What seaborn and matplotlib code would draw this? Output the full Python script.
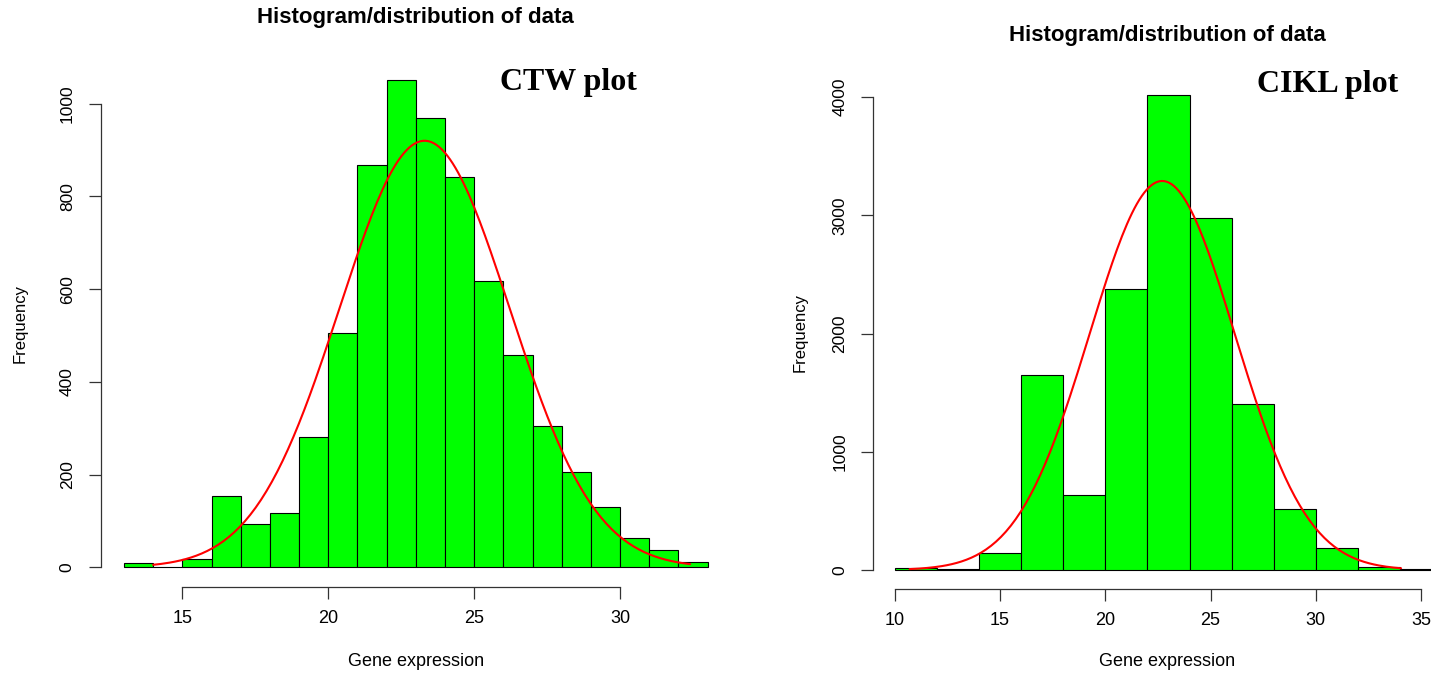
import numpy as np
import pandas as pd
import matplotlib
matplotlib.use("Agg")
import matplotlib.pyplot as plt
import seaborn as sns

# ---------------- data ----------------
ctw_edges = list(range(13, 34, 1))            # 13..33, width 1
ctw_counts = [9, 0, 19, 155, 93, 117, 281, 505, 868, 1052, 968, 842,
              618, 458, 305, 205, 130, 63, 37, 11]

cikl_edges = list(range(10, 37, 2))           # 10..36, width 2
cikl_counts = [20, 12, 144, 1648, 634, 2376, 4017, 2977, 1404, 516, 189, 23, 10]

# fitted normal curves: mean, sd, peak height, x-range
ctw_fit = dict(mean=23.3, sd=2.92, peak=920, x0=14.0, x1=32.4)
cikl_fit = dict(mean=22.7, sd=3.45, peak=3290, x0=10.7, x1=34.05)

ctw_xticks = [15, 20, 25, 30]
ctw_yticks = [0, 200, 400, 600, 800, 1000]
cikl_xticks = [10, 15, 20, 25, 30, 35]
cikl_yticks = [0, 1000, 2000, 3000, 4000]

title_text = "Histogram/distribution of data"
xlab = "Gene expression"
ylab = "Frequency"

# ---------------- style ----------------
sns.set_theme(style="white")
plt.rcParams["font.family"] = ["Liberation Sans", "DejaVu Sans"]
plt.rcParams["text.color"] = "black"
plt.rcParams["axes.labelcolor"] = "black"
plt.rcParams["xtick.color"] = "black"
plt.rcParams["ytick.color"] = "black"

W, H = 1431, 675
fig = plt.figure(figsize=(W / 100, H / 100), dpi=100)


def px_axes(left, right, top, bottom):
    return [left / W, 1 - bottom / H, (right - left) / W, (bottom - top) / H]


def panel(ax, edges, counts, fit, xticks, yticks):
    edges_f = [float(e) for e in edges]
    centers = [(a + b) / 2 for a, b in zip(edges_f[:-1], edges_f[1:])]
    df = pd.DataFrame({"x": centers, "w": counts})
    sns.histplot(data=df, x="x", weights="w", bins=edges_f, ax=ax,
                 color="#00FF00", alpha=1.0, edgecolor="black", linewidth=0.8)
    xs = np.linspace(fit["x0"], fit["x1"], 200)
    ys = fit["peak"] * np.exp(-0.5 * ((xs - fit["mean"]) / fit["sd"]) ** 2)
    sns.lineplot(x=xs, y=ys, ax=ax, color="#FF0000", linewidth=1.5)

    rng = edges_f[-1] - edges_f[0]
    ax.set_xlim(edges_f[0] - 0.04 * rng, edges_f[-1] + 0.04 * rng)
    ymax = max(counts)
    ax.set_ylim(-0.04 * ymax, ymax * 1.04)

    for s in ["top", "right"]:
        ax.spines[s].set_visible(False)
    for s in ["left", "bottom"]:
        ax.spines[s].set_visible(True)
        ax.spines[s].set_color("#333333")
        ax.spines[s].set_linewidth(0.9)
    ax.spines["bottom"].set_bounds(xticks[0], xticks[-1])
    ax.spines["left"].set_bounds(yticks[0], yticks[-1])

    ax.set_xticks(xticks)
    ax.set_yticks(yticks)
    ax.set_xticklabels([str(t) for t in xticks])
    ax.set_yticklabels([str(t) for t in yticks], rotation=90, va="center")
    ax.tick_params(axis="both", direction="out", length=8.6, width=0.9,
                   color="#333333", labelcolor="black", bottom=True, left=True)
    ax.tick_params(axis="x", pad=8, labelsize=13)
    ax.tick_params(axis="y", pad=10, labelsize=12.5)

    ax.set_xlabel(xlab, fontsize=13, color="black")
    ax.set_ylabel(ylab, fontsize=12, color="black")
    ax.grid(False)


# left panel
axL = fig.add_axes(px_axes(100.6, 731, 60, 587))
panel(axL, ctw_edges, ctw_counts, ctw_fit, ctw_xticks, ctw_yticks)
axL.xaxis.set_label_coords(0.5, -(662 - 587) / 527)
axL.xaxis.label.set_va("center")
axL.yaxis.set_label_coords((20 - 100.6) / 630.4, 0.5)
axL.yaxis.label.set_va("center")
axL.text(0.5, 1 + 42 / 527, title_text, transform=axL.transAxes,
         ha="center", va="center", fontsize=16, fontweight="bold", color="black")

# right panel (extends past the right edge, as in the reference)
axR = fig.add_axes(px_axes(873, 1464, 76, 589))
panel(axR, cikl_edges, cikl_counts, cikl_fit, cikl_xticks, cikl_yticks)
axR.xaxis.set_label_coords((1167 - 873) / 591, -(662 - 589) / 513)
axR.xaxis.label.set_va("center")
axR.yaxis.set_label_coords((800 - 873) / 591, 0.5)
axR.yaxis.label.set_va("center")
axR.text((1167 - 873) / 591, 1 + 41 / 513, title_text, transform=axR.transAxes,
         ha="center", va="center", fontsize=16, fontweight="bold", color="black")

fig.text(500 / W, 1 - 90 / H, "CTW plot", ha="left", va="baseline", color="black",
         fontsize=23, fontweight="bold", family=["Liberation Serif", "DejaVu Serif"])
fig.text(1257 / W, 1 - 92 / H, "CIKL plot", ha="left", va="baseline", color="black",
         fontsize=23, fontweight="bold", family=["Liberation Serif", "DejaVu Serif"])

fig.savefig("out.png", dpi=100, facecolor="white")
